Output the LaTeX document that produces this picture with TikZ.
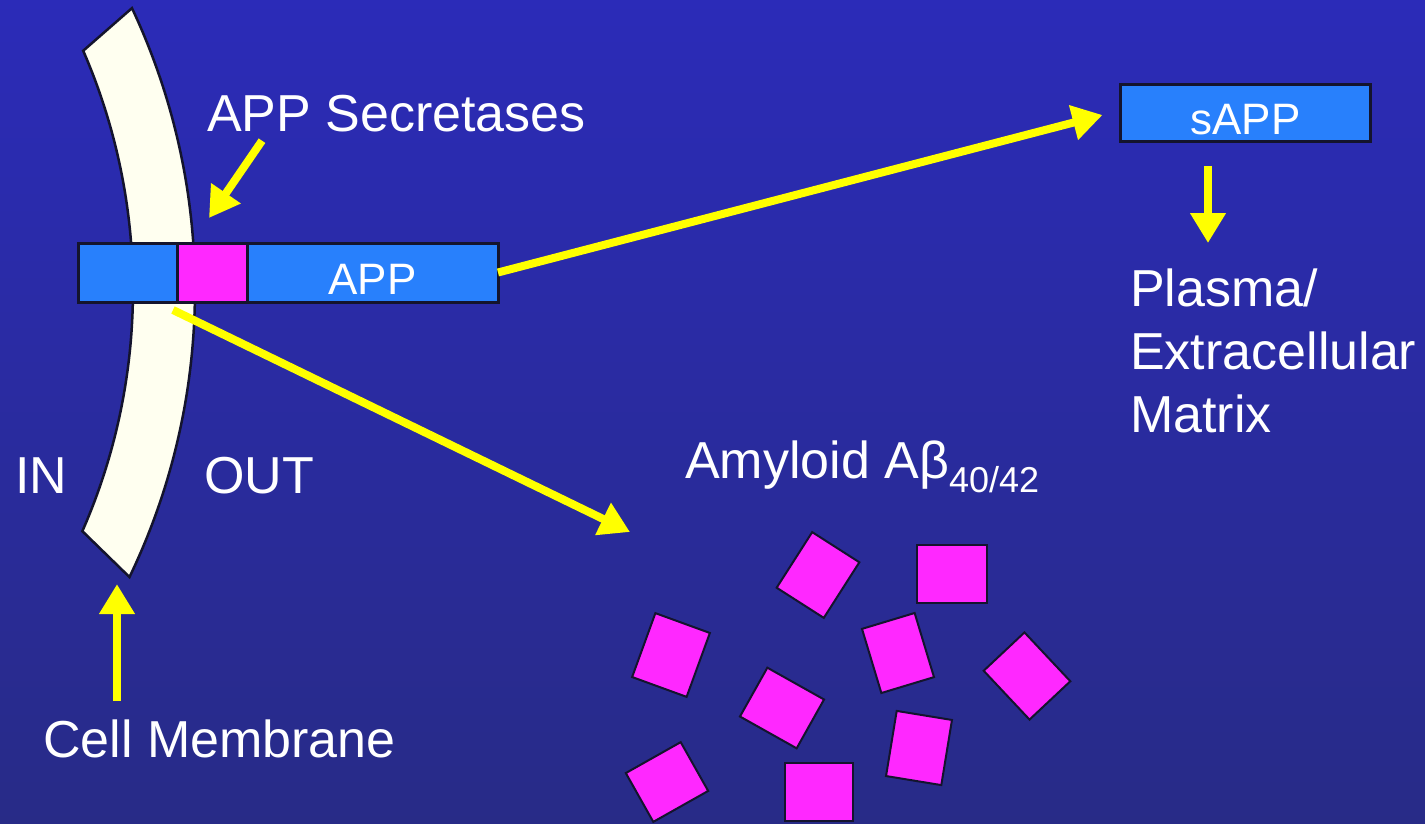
\documentclass[tikz,border=0pt]{standalone}
\usepackage{fontspec}
\setmainfont{Liberation Sans}
\usetikzlibrary{arrows.meta,positioning,calc}
\definecolor{bgtop}{RGB}{43,43,184}
\definecolor{bgbot}{RGB}{40,43,135}
\definecolor{appblue}{RGB}{40,128,252}
\definecolor{cutpink}{RGB}{255,40,255}
\definecolor{memwhite}{RGB}{255,255,240}
\definecolor{arrowyel}{RGB}{255,255,0}
\definecolor{edge}{RGB}{20,20,45}

\begin{document}
\begin{tikzpicture}[x=1pt,y=1pt]
		\tikzstyle{every node}+=[inner sep=0pt]
		\tikzstyle{txt}=[text=white,font=\fontsize{52}{60}\selectfont,anchor=base west]
		\tikzstyle{bar}=[draw=edge,line width=3pt,outer sep=0pt,fill=appblue,minimum height=59,text=white,font=\fontsize{44}{44}\selectfont,text height=44pt,text depth=0pt]
		\tikzstyle{yarrow}=[draw=arrowyel,line width=8pt,-{Triangle[length=30pt,width=34pt]}]
		\tikzstyle{amyloid}=[draw=edge,line width=2pt,fill=cutpink]
		\shade[top color=bgtop,bottom color=bgbot] (0,0) rectangle (1425,-824);
		\useasboundingbox (0,0) rectangle (1425,-824);
		\coordinate (mc) at (-467,-290);
		\draw [draw=edge,line width=2.5pt,fill=memwhite] ($(mc)+(25.2:662)$) arc[start angle=25.2,end angle=-25.7,radius=662pt] -- ($(mc)+(-23.7:600)$) arc[start angle=-23.7,end angle=23.5,radius=600pt] -- cycle;
		\node [bar,minimum width=99,anchor=west] (appin) at (78,-272.5) {};
		\node [bar,fill=cutpink,minimum width=70,right=0pt of appin] (cut) {};
		\node [bar,minimum width=251,right=0pt of cut] (app) {APP};
		\node [bar,minimum width=250,minimum height=57] (sapp) at (1245.5,-113) {sAPP};
		\node [txt] (secr) at (207,-132) {APP Secretases};
		\node [txt] (in) at (15,-493) {IN};
		\node [txt] (out) at (204,-493) {OUT};
		\node [txt] (cellm) at (43,-757) {Cell Membrane};
		\node [txt] (amy) at (685,-478) {Amyloid Aβ\raisebox{-14pt}{\fontsize{36}{36}\selectfont 40/42}};
		\node [txt] (plasma) at (1130,-306) {Plasma/};
		\node [txt] (extra) at ([yshift=-63]plasma.base west) {Extracellular};
		\node [txt] (matrix) at ([yshift=-63]extra.base west) {Matrix};
		\foreach \x/\y/\w/\h/\r [count=\i] in {818/575/56/66/-32.6, 952/574/70/58/0, 671/655/58/68/-20, 782/708/65/56/-29.3, 898/653/55/67/16.8, 1027/676/67/56/-46.8, 919/748/56/66/-9.3, 667/782/63/56/29.4, 819/792/68/58/0}
			\node [amyloid,minimum width=\w,minimum height=\h,rotate=\r] (ab\i) at (\x,-\y) {};
		\draw [yarrow] ([shift={(55,-8)}]secr.south west) -- ([shift={(-3,25)}]cut.north);
		\draw [yarrow] (app.east) -- ([shift={(-18,-2)}]sapp.west);
		\draw [yarrow] ([shift={(-4,-8)}]cut.south west) -- ([shift={(-55,-54)}]amy.base west);
		\draw [yarrow] ([shift={(-37.5,-24.5)}]sapp.south) -- ([shift={(78,63)}]plasma.base west);
		\draw [yarrow] ([shift={(74,18)}]cellm.north west) -- ++(0,117);
	\end{tikzpicture}
\end{document}
